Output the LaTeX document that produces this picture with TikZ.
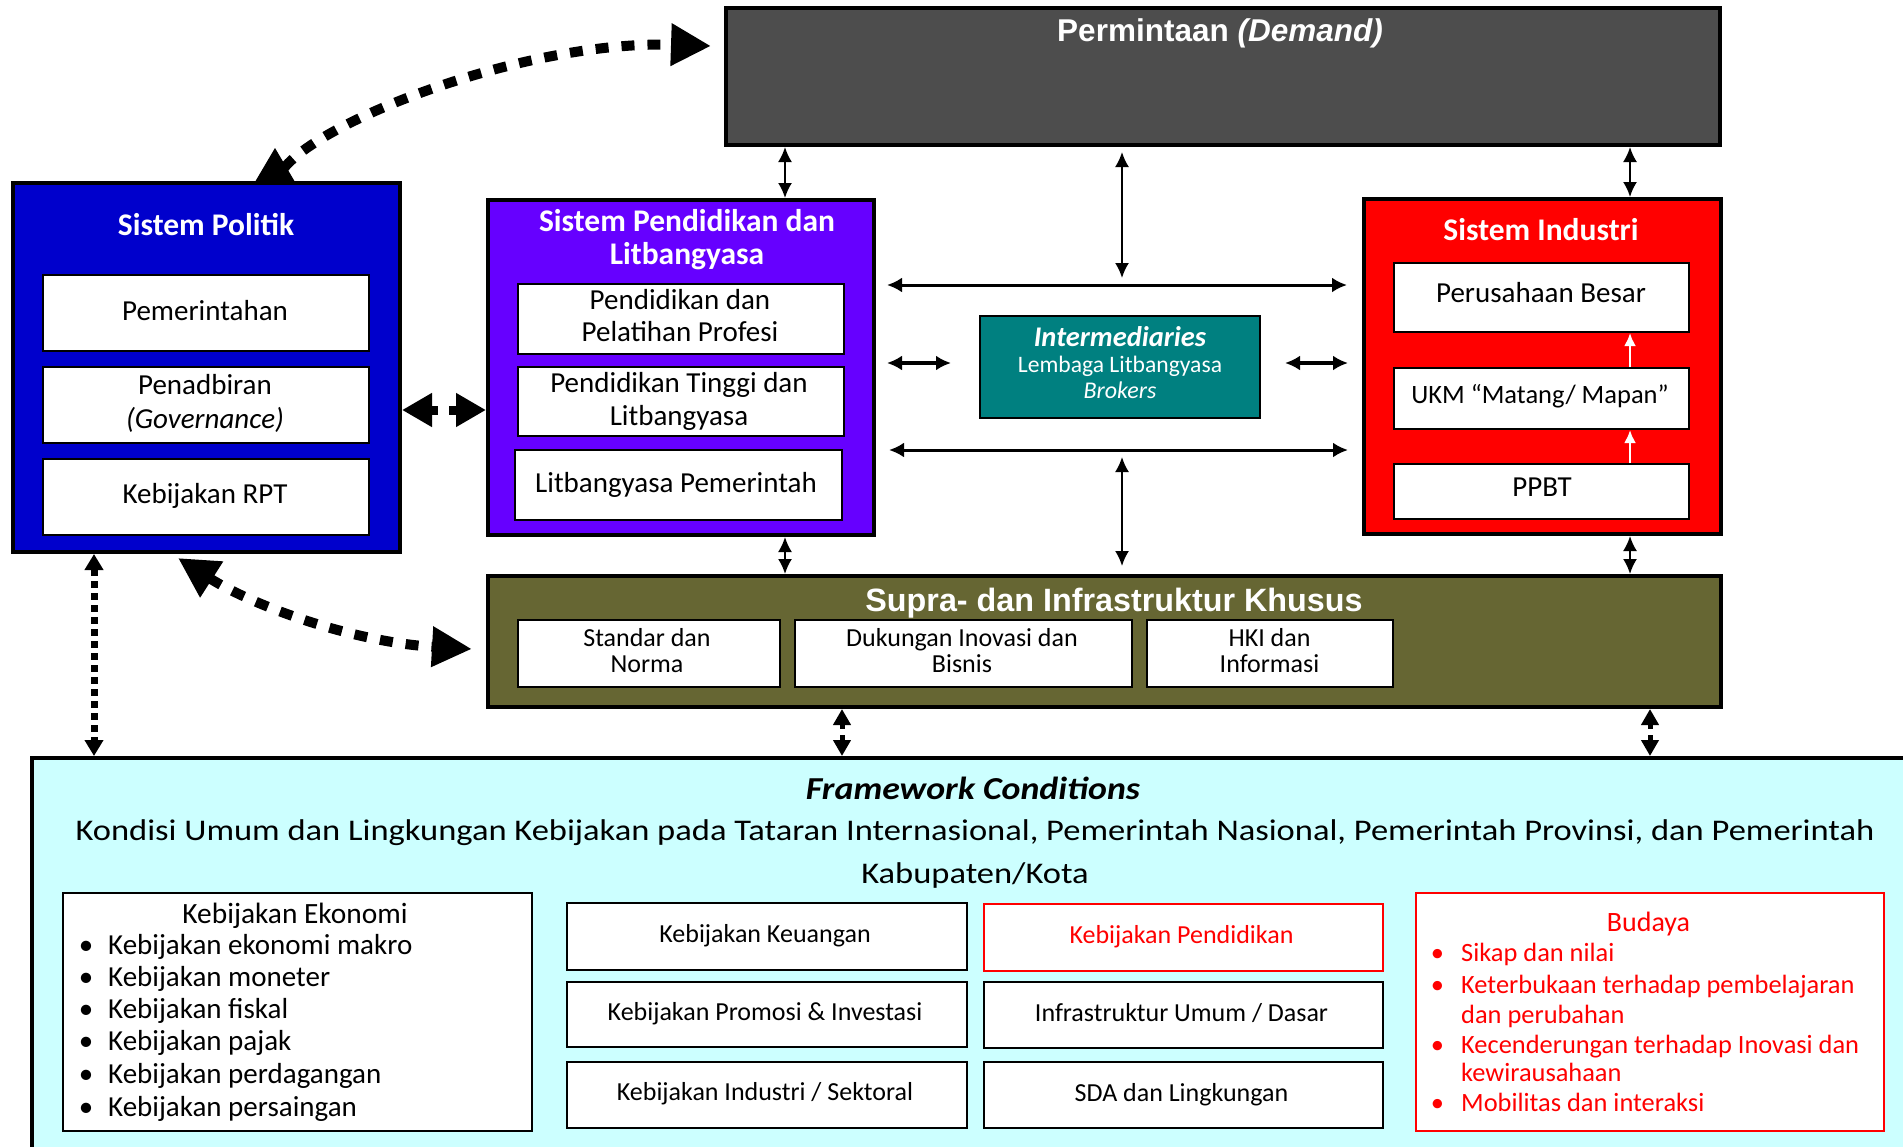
\documentclass[tikz,border=0pt]{standalone}
\usepackage{fontspec}
\setmainfont{Carlito}
\newfontfamily\arialfont{Liberation Sans}
\newfontfamily\widefont[FakeStretch=1.15]{Carlito}
\newfontfamily\wideboldfont[FakeStretch=1.12]{Carlito}
\usetikzlibrary{arrows.meta}
\definecolor{polblue}{HTML}{0000CC}
\definecolor{pendviolet}{HTML}{6600FF}
\definecolor{indred}{HTML}{FF0000}
\definecolor{tealc}{HTML}{008080}
\definecolor{olivec}{HTML}{666633}
\definecolor{demgray}{HTML}{4D4D4D}
\definecolor{framecyan}{HTML}{CCFFFF}
\newcommand\fsz[2]{\fontsize{#1}{#2}\selectfont}
\tikzset{
  mainbox/.style={draw=black, line width=4pt, inner sep=0pt},
  wbox/.style={draw=black, line width=2pt, fill=white, inner sep=0pt},
  rbox/.style={draw=indred, line width=2pt, fill=white, inner sep=0pt},
  txt/.style={inner sep=0pt, anchor=base},
  ttl/.style={txt, text=white, font=\fsz{31.5}{34}\bfseries},
  ttlA/.style={txt, text=white, font=\fsz{31.5}{34}\arialfont\bfseries},
  bt/.style={txt, font=\fsz{29}{32}},
  st/.style={txt, font=\fsz{26}{28}},
  rt/.style={txt, text=indred, font=\fsz{26.4}{29}},
  thinarr/.style={line width=2pt, arrows={Latex[length=15pt,width=14pt]-Latex[length=15pt,width=14pt]}},
  medarr/.style={line width=3pt, arrows={Latex[length=15pt,width=15pt]-Latex[length=15pt,width=15pt]}},
  whitearr/.style={draw=white, line width=2.5pt, arrows={-Latex[length=13pt,width=12pt]}},
  dotarr/.style={line width=7pt, dash pattern=on 7pt off 5pt, arrows={Triangle[length=16pt,width=18pt]-Triangle[length=16pt,width=18pt]}},
  sdash/.style={line width=5pt, dash pattern=on 5pt off 6pt, arrows={Triangle[length=16pt,width=17pt]-Triangle[length=16pt,width=17pt]}},
  bigdash/.style={line width=9pt, dash pattern=on 8pt off 11pt, arrows={Triangle[length=30pt,width=32pt]-Triangle[length=30pt,width=32pt]}},
  curvy/.style={line width=10pt, dash pattern=on 13pt off 13pt},
}
\begin{document}
\begin{tikzpicture}[x=1pt, y=-1pt]
\useasboundingbox (0,0) rectangle (1903,1146);
\clip (0,0) rectangle (1903,1146);
\fill[white] (0,0) rectangle (1903,1146);

% helper coordinates
\coordinate (xPD) at (785,0);
\coordinate (xIN) at (1630,0);
\coordinate (xL) at (94,0);
\coordinate (xS1) at (842,0);
\coordinate (xS2) at (1650,0);
\coordinate (yG) at (0,410);

% Demand
\node[mainbox, fill=demgray, minimum width=994pt, minimum height=137pt] (demand) at (1223,76.5) {};
\node[ttlA] (demandttl) at (1220,41.7) {Permintaan \textit{(Demand)}};

% Sistem Politik
\node[mainbox, fill=polblue, minimum width=387pt, minimum height=369pt] (politik) at (206.5,367.5) {};
\node[ttl] (politikttl) at (206,235.7) {Sistem Politik};
\node[wbox, minimum width=326pt, minimum height=76pt] (pem) at (206,313) {};
\node[wbox, minimum width=326pt, minimum height=76pt] (pen) at (206,405) {};
\node[wbox, minimum width=326pt, minimum height=76pt] (rpt) at (206,497) {};
\node[bt] (pemT) at (205,320.7) {Pemerintahan};
\node[bt] (penT1) at (205,394.6) {Penadbiran};
\node[bt] (penT2) at (205,428.6) {\itshape (Governance)};
\node[bt] (rptT) at (205,503.6) {Kebijakan RPT};

% Sistem Pendidikan
\node[mainbox, fill=pendviolet, minimum width=386pt, minimum height=335pt] (pend) at (681,367.5) {};
\node[ttl] (pendttl1) at (687,231.4) {Sistem Pendidikan dan};
\node[ttl] (pendttl2) at (687,264.3) {Litbangyasa};
\node[wbox, minimum width=326pt, minimum height=70pt] (pd1) at (681,319) {};
\node[wbox, minimum width=326pt, minimum height=69pt] (pd2) at (681,401.5) {};
\node[wbox, minimum width=327pt, minimum height=70pt] (pd3) at (678.5,485) {};
\node[bt] (pd1a) at (680,309) {Pendidikan dan};
\node[bt] (pd1b) at (680,341) {Pelatihan Profesi};
\node[bt] (pd2a) at (679,392.9) {Pendidikan Tinggi dan};
\node[bt] (pd2b) at (679,425) {Litbangyasa};
\node[bt] (pd3a) at (676,492) {Litbangyasa Pemerintah};

% Sistem Industri
\node[mainbox, fill=indred, minimum width=357pt, minimum height=335pt] (ind) at (1542.5,366.5) {};
\node[ttl] (indttl) at (1541,240) {Sistem Industri};
\node[wbox, minimum width=295pt, minimum height=69pt] (in1) at (1541.5,297.5) {};
\node[wbox, minimum width=295pt, minimum height=61pt] (in2) at (1541.5,398.5) {};
\node[wbox, minimum width=295pt, minimum height=55pt] (in3) at (1541.5,491.5) {};
\node[bt] (in1T) at (1541,302.7) {Perusahaan Besar};
\node[bt, font=\fsz{26.5}{30}] (in2T) at (1540,403.3) {UKM “Matang/ Mapan”};
\node[bt] (in3T) at (1542,496.7) {PPBT};

% Intermediaries
\node[draw=black, line width=2pt, fill=tealc, minimum width=280pt, minimum height=102pt, inner sep=0pt] (inter) at (1120,367) {};
\node[txt, text=white, font=\fsz{28.5}{30}\bfseries\itshape] (intA) at (1120,346.7) {Intermediaries};
\node[txt, text=white, font=\fsz{23.6}{26}] (intB) at (1120,372.7) {Lembaga Litbangyasa};
\node[txt, text=white, font=\fsz{24}{26}\itshape] (intC) at (1120,398.3) {Brokers};

% Supra
\node[mainbox, fill=olivec, minimum width=1233pt, minimum height=131pt] (supra) at (1104.5,641.5) {};
\node[ttlA, font=\fsz{32.3}{34}\arialfont\bfseries] (suprattl) at (1114,611.5) {Supra- dan Infrastruktur Khusus};
\node[wbox, minimum width=262pt, minimum height=67pt] (s1) at (649,653.5) {};
\node[wbox, minimum width=337pt, minimum height=67pt] (s2) at (963.5,653.5) {};
\node[wbox, minimum width=246pt, minimum height=67pt] (s3) at (1270,653.5) {};
\node[st] (s1a) at (647,646) {Standar dan};
\node[st] (s1b) at (647,672.7) {Norma};
\node[st] (s2a) at (962,646) {Dukungan Inovasi dan};
\node[st] (s2b) at (962,672.7) {Bisnis};
\node[st] (s3a) at (1269.5,646) {HKI dan};
\node[st] (s3b) at (1269.5,672.7) {Informasi};

% Framework
\node[draw=black, line width=4pt, fill=framecyan, minimum width=1900pt, minimum height=420pt, anchor=north west, inner sep=0pt] (frame) at (30,756) {};
\node[txt, font=\fsz{32}{36}\wideboldfont\bfseries\itshape] (fwttl) at (973,799) {Framework Conditions};
\node[txt, font=\fsz{30}{40}\widefont] (fw1) at (975,840.7) {Kondisi Umum dan Lingkungan Kebijakan pada Tataran Internasional, Pemerintah Nasional, Pemerintah Provinsi, dan Pemerintah};
\node[txt, font=\fsz{30}{40}\widefont] (fw2) at (975,883) {Kabupaten/Kota};

% Kebijakan Ekonomi
\node[wbox, minimum width=469pt, minimum height=238pt] (ekon) at (297.5,1012) {};
\node[txt, font=\fsz{29.4}{32}] (ekonttl) at (295,923) {Kebijakan Ekonomi};
\foreach \t/\yy [count=\i] in {Kebijakan ekonomi makro/954, Kebijakan moneter/986, Kebijakan fiskal/1018, Kebijakan pajak/1050, Kebijakan perdagangan/1083, Kebijakan persaingan/1116}{
  \node[bt] (eb\i) at (86,\yy) {\textbullet};
  \node[bt, anchor=base west] (ei\i) at (108,\yy) {\t};
}

% Middle policy boxes
\node[wbox, minimum width=400pt, minimum height=67pt] (mk1) at (767,936.5) {};
\node[wbox, minimum width=400pt, minimum height=65pt] (mk2) at (767,1014.5) {};
\node[wbox, minimum width=400pt, minimum height=66pt] (mk3) at (767,1095) {};
\node[rbox, minimum width=399pt, minimum height=67pt] (rk1) at (1183.5,937.5) {};
\node[wbox, minimum width=399pt, minimum height=66pt] (rk2) at (1183.5,1015) {};
\node[wbox, minimum width=399pt, minimum height=66pt] (rk3) at (1183.5,1095) {};
\node[st] (mk1T) at (765,942) {Kebijakan Keuangan};
\node[st] (mk2T) at (765,1020.7) {Kebijakan Promosi \& Investasi};
\node[st] (mk3T) at (765,1100.7) {Kebijakan Industri / Sektoral};
\node[st, text=indred] (rk1T) at (1181.5,943) {Kebijakan Pendidikan};
\node[st] (rk2T) at (1181.5,1021.7) {Infrastruktur Umum / Dasar};
\node[st] (rk3T) at (1181.5,1101.7) {SDA dan Lingkungan};

% Budaya
\node[draw=indred, line width=2pt, fill=white, minimum width=468pt, minimum height=238pt, inner sep=0pt] (bud) at (1650,1012) {};
\node[txt, text=indred, font=\fsz{28}{30}] (budttl) at (1648.5,931.7) {Budaya};
\foreach \t/\yy [count=\i] in {Sikap dan nilai/961.7, Keterbukaan terhadap pembelajaran/993, Kecenderungan terhadap Inovasi dan/1053, Mobilitas dan interaksi/1111.7}{
  \node[rt] (bb\i) at (1437.5,\yy) {\textbullet};
  \node[rt, anchor=base west] (bi\i) at (1461,\yy) {\t};
}
\node[rt, anchor=base west] (bi2b) at (1461,1023) {dan perubahan};
\node[rt, anchor=base west] (bi3b) at (1461,1081.7) {kewirausahaan};

% ---------- connectors ----------
\draw[thinarr] (demand.south -| xPD) -- (pend.north -| xPD);
\draw[thinarr] (demand.south -| xIN) -- (ind.north -| xIN);
\draw[thinarr] (pend.south -| xPD) -- (supra.north -| xPD);
\draw[thinarr] (ind.south -| xIN) -- (supra.north -| xIN);

\coordinate (m1) at (1122,152);
\coordinate (m2) at (1122,278);
\coordinate (m3) at (1122,457);
\coordinate (m4) at (1122,566);
\draw[thinarr] (m1) -- (m2);
\draw[thinarr] (m3) -- (m4);

\coordinate (h1) at (887,285);
\coordinate (h2) at (1347,285);
\coordinate (h3) at (889,450);
\coordinate (h4) at (1348,450);
\draw[medarr] (h1) -- (h2);
\draw[medarr] (h3) -- (h4);

\coordinate (k1) at (887,363);
\coordinate (k2) at (951,363);
\coordinate (k3) at (1285,363);
\coordinate (k4) at (1348,363);
\draw[medarr, line width=3.5pt] (k1) -- (k2);
\draw[medarr, line width=3.5pt] (k3) -- (k4);

\draw[whitearr] (in2.north -| xIN) -- (in1.south -| xIN);
\draw[whitearr] (in3.north -| xIN) -- (in2.south -| xIN);

\draw[dotarr] (politik.south -| xL) -- (frame.north -| xL);
\draw[sdash] (supra.south -| xS1) -- (frame.north -| xS1);
\draw[sdash] (supra.south -| xS2) -- (frame.north -| xS2);

\draw[bigdash] (politik.east |- yG) -- (pend.west |- yG);

% curved arrows
\coordinate (cPB) at (275,183);
\coordinate (cPT) at (275,148);
\coordinate (cPS) at (284,168);
\coordinate (cDem) at (711,46);
\draw[curvy, arrows={-Triangle[length=40pt,width=40pt]}] (cPS) .. controls (325,118) and (530,40) .. (cDem);
\draw[line width=1pt, arrows={-Triangle[length=35pt,width=41pt]}] (cPB) -- (cPT);

\coordinate (cPL) at (178,558);
\coordinate (cSup) at (472,649);
\draw[curvy, arrows={Triangle[length=40pt,width=40pt]-Triangle[length=40pt,width=38pt]}] (cPL) .. controls (250,604) and (350,642) .. (cSup);
\end{tikzpicture}
\end{document}
